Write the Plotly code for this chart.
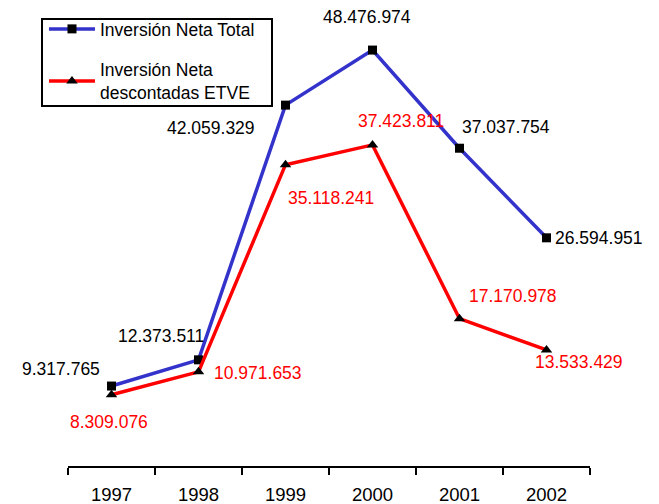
import plotly.graph_objects as go

years = ["1997", "1998", "1999", "2000", "2001", "2002"]
total = [9317765, 12373511, 42059329, 48476974, 37037754, 26594951]
etve = [8309076, 10971653, 35118241, 37423811, 17170978, 13533429]
total_labels = ["9.317.765", "12.373.511", "42.059.329", "48.476.974", "37.037.754", "26.594.951"]
etve_labels = ["8.309.076", "10.971.653", "35.118.241", "37.423.811", "17.170.978", "13.533.429"]

# label offsets (px) relative to each point
total_off = [(-51, 17), (-38, 24), (-75, -23), (-6, 33), (46, 21), (52, 0)]
etve_off = [(-3, -27), (59, -1), (45, -33), (28, 24), (53, 23), (32, -12)]

FONT = "Liberation Sans, Arial, sans-serif"

fig = go.Figure()
fig.add_trace(go.Scatter(
    x=years, y=total, mode="lines+markers", name="Inversión Neta Total",
    legendgroup="g1",
    line=dict(color="#3333CC", width=3.5),
    marker=dict(symbol="square", size=9, color="black"),
))
fig.add_trace(go.Scatter(
    x=years, y=etve, mode="lines+markers", name="Inversión Neta<br>descontadas ETVE",
    legendgroup="g2",
    line=dict(color="#FF0000", width=3.5),
    marker=dict(symbol="triangle-up", size=10, color="black"),
))

for i, (v, t, (dx, dy)) in enumerate(zip(total, total_labels, total_off)):
    fig.add_annotation(x=i, y=v, xref="x", yref="y", text=t, showarrow=False,
                       xshift=dx, yshift=dy,
                       font=dict(family=FONT, size=17.5, color="black"))
for i, (v, t, (dx, dy)) in enumerate(zip(etve, etve_labels, etve_off)):
    fig.add_annotation(x=i, y=v, xref="x", yref="y", text=t, showarrow=False,
                       xshift=dx, yshift=dy,
                       font=dict(family=FONT, size=17.5, color="#FF0000"))

# legend frame
fig.add_shape(type="rect", xref="paper", yref="paper",
              x0=-0.0498, x1=0.3908, y0=0.8392, y1=1.042,
              line=dict(color="black", width=2), fillcolor="rgba(0,0,0,0)",
              layer="above")

fig.update_layout(
    width=659, height=504,
    margin=dict(l=68, r=69, t=37, b=38, autoexpand=False),
    paper_bgcolor="white", plot_bgcolor="white",
    font=dict(family=FONT, size=17, color="black"),
    showlegend=True,
    legend=dict(x=-0.046, y=1.0606, xanchor="left", yanchor="top",
                borderwidth=0, bgcolor="rgba(0,0,0,0)",
                font=dict(family=FONT, size=17.5, color="black"),
                itemwidth=46, tracegroupgap=15),
    xaxis=dict(type="category", showgrid=False, showline=True, linecolor="black",
               linewidth=2, ticks="outside", tickson="boundaries", ticklen=7,
               tickwidth=2, tickcolor="black", zeroline=False,
               tickfont=dict(family=FONT, size=18.5, color="black"),
               ticklabelstandoff=11, automargin=False,
               range=[-0.5, 5.5]),
    yaxis=dict(range=[0, 50000000], showgrid=False, zeroline=False,
               showline=False, showticklabels=False, ticks="", automargin=False),
)

fig.write_html("out.html", config={"displayModeBar": False},
               post_script="document.body.style.margin='0';document.body.style.overflow='hidden';")
